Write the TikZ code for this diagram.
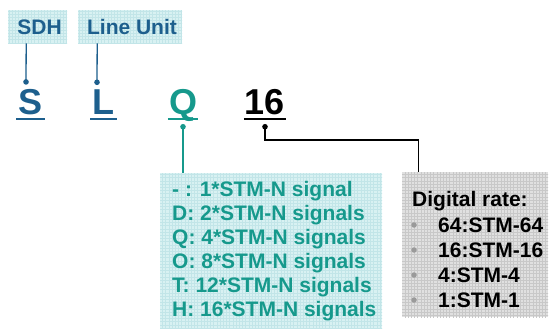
\documentclass[tikz,border=0pt]{standalone}
\usepackage{fontspec}
\setmainfont{Liberation Sans}
\usetikzlibrary{arrows.meta}
\definecolor{dblue}{HTML}{1D5F8D}
\definecolor{tealtx}{HTML}{16998C}
\definecolor{tealfill}{HTML}{D8F1F2}
\definecolor{tealgrid}{HTML}{C2E5E8}
\definecolor{grayfill}{HTML}{E0E0E0}
\definecolor{graygrid}{HTML}{C8C8C8}
\definecolor{bulletgray}{HTML}{9A9A9A}
\begin{document}
\begin{tikzpicture}[x=1pt,y=-1pt,
  lbl/.style={font=\fontsize{21}{24}\selectfont\bfseries, inner sep=0pt},
  big/.style={font=\fontsize{36}{40}\selectfont\bfseries, inner sep=0pt, anchor=base},
  tealbox/.style={fill=tealfill, inner sep=0pt, anchor=north west,
    path picture={\draw[tealgrid, line width=0.35pt, step=3.2pt]
      ([shift={(-1pt,-1pt)}]path picture bounding box.south west) grid
      ([shift={(1pt,1pt)}]path picture bounding box.north east);}},
  graybox/.style={fill=grayfill, inner sep=0pt, anchor=north west,
    path picture={\draw[graygrid, line width=0.35pt, step=3.2pt]
      ([shift={(-1pt,-1pt)}]path picture bounding box.south west) grid
      ([shift={(1pt,1pt)}]path picture bounding box.north east);}},
  bconn/.style={dblue, line width=1.3pt, -{Circle[length=5.5pt]}},
  tconn/.style={tealtx, line width=1.3pt, -{Circle[length=5.5pt]}},
  kconn/.style={black, line width=1.3pt, -{Circle[length=5.5pt]}},
  uline/.style={line width=2.4pt},
  qline/.style={lbl, text=tealtx, anchor=base west},
  gline/.style={lbl, text=black, anchor=base west},
  dot/.style={circle, fill=bulletgray, inner sep=0pt, minimum size=5.5pt}
]
\useasboundingbox (0,0) rectangle (549,329);
\fill[white] (0,0) rectangle (549,329);

% top label boxes
\node[tealbox, minimum width=59pt, minimum height=33pt] (sdh) at (8,10) {};
\node[lbl, text=dblue] (sdhtxt) at (39.5,27) {SDH};
\node[tealbox, minimum width=104pt, minimum height=33pt] (lu) at (78,10) {};
\node[lbl, text=dblue] (lutxt) at (132,27) {Line Unit};

% big letters
\node[big, text=dblue] (S) at (30.5,114) {S};
\node[big, text=dblue] (L) at (103.5,114) {L};
\node[big, text=tealtx] (Q) at (183,114) {Q};
\node[big, text=black] (n16) at (265,114) {16};

\draw[uline, dblue] ([xshift=-2pt,yshift=-5pt]S.base west) -- ([xshift=2pt,yshift=-5pt]S.base east);
\draw[uline, dblue] ([xshift=-2pt,yshift=-5pt]L.base west) -- ([xshift=2pt,yshift=-5pt]L.base east);
\draw[uline, tealtx] ([xshift=-1pt,yshift=-5pt]Q.base west) -- ([xshift=1pt,yshift=-5pt]Q.base east);
\draw[uline, black] ([xshift=-1pt,yshift=-5pt]n16.base west) -- ([xshift=1pt,yshift=-5pt]n16.base east);

% lower boxes
\node[tealbox, minimum width=222pt, minimum height=156pt] (qbox) at (160,173) {};
\node[graybox, minimum width=146pt, minimum height=145pt] (gbox) at (402,172) {};

% connectors
\draw[bconn] ([xshift=-11.5pt]sdh.south) -- ([xshift=-4.5pt,yshift=4pt]S.north);
\draw[bconn] ([xshift=-33pt]lu.south) -- ([xshift=-6.5pt,yshift=4pt]L.north);
\draw[tconn] (qbox.north -| Q) -- ([yshift=-10pt]Q.base);
\draw[kconn] ([xshift=-57pt]gbox.north) -- ++(0,-32) -| ([yshift=-10pt]n16.base);

% teal list
\node[qline] (q1) at (172,196.5) {- : 1*STM-N signal};
\node[qline] (q2) at (172,220.5) {D: 2*STM-N signals};
\node[qline] (q3) at (172,244.5) {Q: 4*STM-N signals};
\node[qline] (q4) at (172,268.5) {O: 8*STM-N signals};
\node[qline] (q5) at (172,292.5) {T: 12*STM-N signals};
\node[qline] (q6) at (172,316.5) {H: 16*STM-N signals};

% gray list
\node[gline] (g0) at (412,206) {Digital rate:};
\node[gline] (g1) at (438,232) {64:STM-64};
\node[gline] (g2) at (438,257) {16:STM-16};
\node[gline] (g3) at (438,282) {4:STM-4};
\node[gline] (g4) at (438,307) {1:STM-1};
\node[dot] (b1) at (414,225) {};
\node[dot] (b2) at (414,250) {};
\node[dot] (b3) at (414,275) {};
\node[dot] (b4) at (414,300) {};
\end{tikzpicture}
\end{document}
